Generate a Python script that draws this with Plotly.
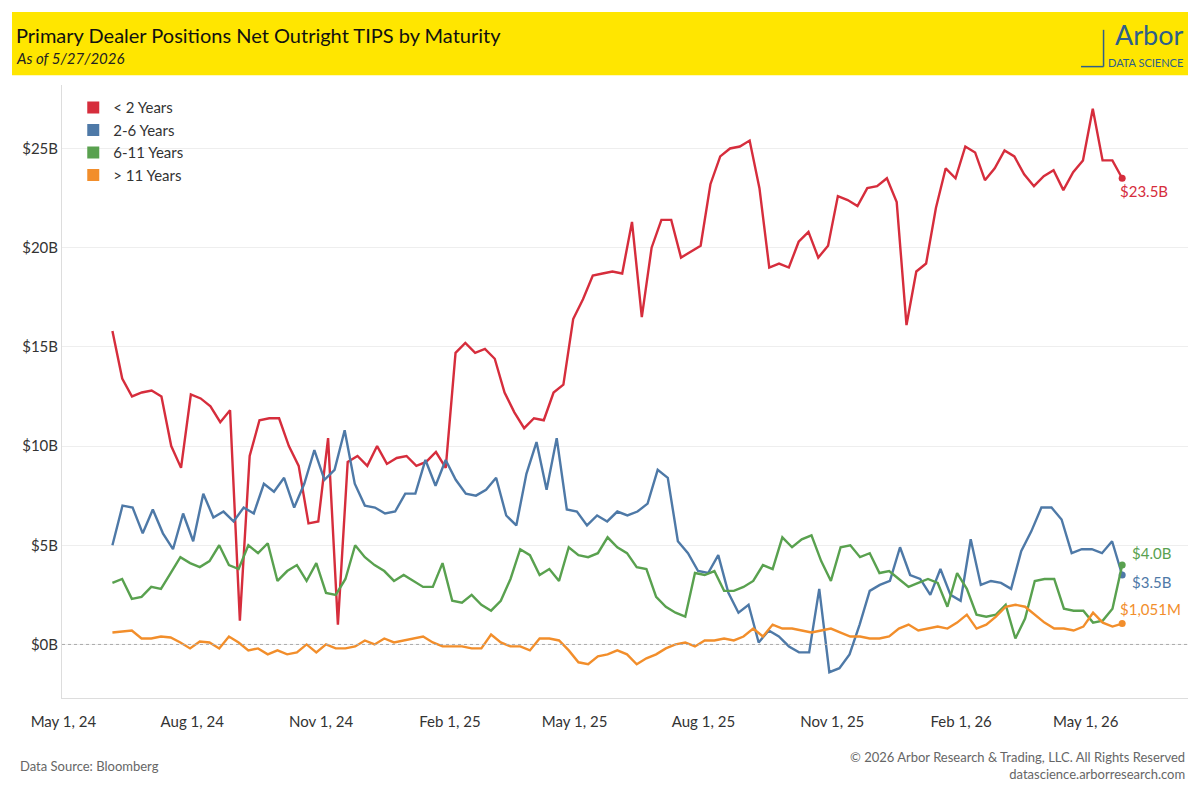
import plotly.graph_objects as go
import pandas as pd

lt2 = [15.8,13.4,12.5,12.7,12.8,12.5,10.0,8.9,12.6,12.4,12.0,11.2,11.8,1.2,9.5,11.3,11.4,11.4,10.0,9.0,6.1,6.2,
       10.4,1.0,9.2,9.5,9.0,10.0,9.1,9.4,9.5,9.0,9.2,9.7,8.9,
       14.7,15.2,14.7,14.9,14.4,12.7,11.7,10.9,11.4,11.3,12.7,13.1,16.4,17.4,18.6,18.7,18.8,18.7,21.3,16.5,
       20.0,21.4,21.4,19.5,19.8,20.1,23.2,24.6,25.0,25.1,25.4,23.0,19.0,19.2,19.0,20.3,20.8,19.5,20.1,22.6,
       22.4,22.1,23.0,23.1,23.5,22.3,16.1,18.8,19.2,22.0,24.0,23.5,25.1,24.8,23.4,24.0,24.9,24.6,23.7,23.1,
       23.6,23.9,22.9,23.8,24.4,27.0,24.4,24.4,23.5]
y2_6 = [5.0,7.0,6.9,5.6,6.8,5.6,4.8,6.6,5.2,7.6,6.4,6.7,6.2,6.9,6.6,8.1,7.7,8.4,6.9,8.1,9.8,8.3,8.8,10.8,
        8.1,7.0,6.9,6.6,6.7,7.6,7.6,9.3,8.0,9.3,8.3,7.6,7.5,7.8,8.4,6.5,6.0,8.6,10.2,7.8,10.4,6.8,6.7,6.0,
        6.5,6.2,6.7,6.5,6.7,7.1,8.8,8.4,5.2,4.6,3.7,3.6,4.5,2.6,1.6,2.0,0.1,0.7,0.4,-0.1,-0.4,-0.4,2.8,-1.4,
        -1.2,-0.5,1.0,2.7,3.0,3.2,4.9,3.5,3.3,2.5,3.8,2.5,2.2,5.3,3.0,3.2,3.1,2.8,4.7,5.7,6.9,6.9,6.3,4.6,
        4.8,4.8,4.6,5.2,3.5]
y6_11 = [3.1,3.3,2.3,2.4,2.9,2.8,3.6,4.4,4.1,3.9,4.2,5.0,4.0,3.8,5.0,4.6,5.1,3.2,3.7,4.0,3.2,4.1,2.6,2.5,
         3.3,5.0,4.4,4.0,3.7,3.2,3.5,3.2,2.9,2.9,4.1,2.2,2.1,2.5,2.0,1.7,2.2,3.3,4.8,4.5,3.5,3.8,3.2,4.9,
         4.5,4.4,4.6,5.4,4.9,4.6,3.9,3.8,2.4,1.9,1.6,1.4,3.6,3.5,3.7,2.7,2.7,2.9,3.2,4.0,3.8,5.4,4.9,5.3,
         5.5,4.2,3.2,4.9,5.0,4.4,4.6,3.6,3.7,3.3,2.9,3.1,3.3,3.1,1.9,3.6,2.8,1.5,1.4,1.5,2.0,0.3,1.3,3.2,
         3.3,3.3,1.8,1.7,1.7,1.1,1.2,1.8,4.0]
gt11 = [0.6,0.65,0.7,0.3,0.3,0.4,0.35,0.1,-0.2,0.15,0.1,-0.2,0.4,0.1,-0.3,-0.2,-0.5,-0.3,-0.5,-0.4,0.0,-0.4,
        0.0,-0.2,-0.2,-0.1,0.2,0.0,0.3,0.1,0.2,0.3,0.4,0.1,-0.1,-0.1,-0.1,-0.2,-0.2,0.5,0.1,-0.1,-0.1,-0.3,
        0.3,0.3,0.2,-0.3,-0.9,-1.0,-0.6,-0.5,-0.3,-0.5,-1.0,-0.7,-0.5,-0.2,0.0,0.1,-0.1,0.2,0.2,0.3,0.2,
        0.4,0.8,0.4,1.0,0.8,0.8,0.7,0.6,0.7,0.8,0.6,0.4,0.4,0.3,0.3,0.4,0.8,1.0,0.7,0.8,0.9,0.8,1.1,1.5,
        0.8,1.0,1.4,1.9,2.0,1.9,1.5,1.1,0.8,0.8,0.7,0.9,1.6,1.1,0.9,1.051]

names = ["< 2 Years", "2-6 Years", "6-11 Years", "> 11 Years"]
colors = ["#D62D3C", "#4E79A7", "#59A14F", "#F28E2B"]
series = [lt2, y2_6, y6_11, gt11]
end_labels = ["$23.5B", "$3.5B", "$4.0B", "$1,051M"]
start = pd.Timestamp("2024-06-05")
end = pd.Timestamp("2026-05-27")

fig = go.Figure()
for n, c, s in zip(names, colors, series):
    k = len(s)
    x = [start + (end - start) * i / (k - 1) for i in range(k)]
    fig.add_trace(go.Scatter(x=x, y=s, name=n, mode="lines", line=dict(color=c, width=2.4),
                             showlegend=False))
    fig.add_trace(go.Scatter(x=[x[-1]], y=[s[-1]], mode="markers", marker=dict(color=c, size=7),
                             showlegend=False))
    fig.add_trace(go.Scatter(x=[None], y=[None], mode="markers", name=n,
                             marker=dict(color=c, size=12, symbol="square")))

offs = [(-4, -13), (8, -7), (8, 12), (-4, 15)]
for lab, c, s, (dx, dy) in zip(end_labels, colors, series, offs):
    fig.add_annotation(x=end, y=s[-1], text=lab, showarrow=False, xanchor="left", xshift=dx,
                       yshift=dy, font=dict(color=c, size=15, family="Lato"))

fig.add_shape(type="rect", xref="paper", yref="paper", x0=-0.0444, x1=1.0, y0=1.016, y1=1.119,
              fillcolor="#FFE600", line_width=0, layer="below")
fig.add_annotation(xref="paper", yref="paper", x=-0.043, y=1.105, xanchor="left", yanchor="top",
                   text="Primary Dealer Positions Net Outright TIPS by Maturity", showarrow=False,
                   font=dict(size=20, color="#111", family="Lato"))
fig.add_annotation(xref="paper", yref="paper", x=-0.043, y=1.062, xanchor="left", yanchor="top",
                   text="<i>As of 5/27/2026</i>", showarrow=False, font=dict(size=15, color="#222", family="Lato"))
fig.add_annotation(xref="paper", yref="paper", x=0.997, y=1.112, xanchor="right", yanchor="top",
                   text="Arbor", showarrow=False, font=dict(size=27, color="#2E5F8A", family="Lato"))
fig.add_annotation(xref="paper", yref="paper", x=0.997, y=1.05, xanchor="right", yanchor="top",
                   text="DATA SCIENCE", showarrow=False, font=dict(size=11, color="#2E5F8A", family="Lato"))
fig.add_shape(type="line", xref="paper", yref="paper", x0=0.905, x1=0.925, y0=1.03, y1=1.03,
              line=dict(color="#2E5F8A", width=1.5))
fig.add_shape(type="line", xref="paper", yref="paper", x0=0.925, x1=0.925, y0=1.03, y1=1.09,
              line=dict(color="#2E5F8A", width=1.5))
fig.add_annotation(xref="paper", yref="paper", x=-0.039, y=-0.095, xanchor="left", yanchor="top",
                   text="Data Source: Bloomberg", showarrow=False, font=dict(size=13, color="#666", family="Lato"))
fig.add_annotation(xref="paper", yref="paper", x=0.999, y=-0.08, xanchor="right", yanchor="top", align="right",
                   text="© 2026 Arbor Research & Trading, LLC. All Rights Reserved<br>datascience.arborresearch.com",
                   showarrow=False, font=dict(size=13, color="#666", family="Lato"))

fig.update_layout(
    width=1184, height=784, plot_bgcolor="white", paper_bgcolor="white",
    margin=dict(l=54, r=4, t=77, b=94),
    font=dict(family="Lato", color="#333"),
    legend=dict(x=0.01, y=0.99, xanchor="left", yanchor="top", font=dict(size=15), bgcolor="rgba(0,0,0,0)",
                itemwidth=30, tracegroupgap=0),
    xaxis=dict(range=["2024-04-30", "2026-07-13"], tickvals=pd.date_range("2024-05-01", "2026-05-01", freq="3MS"),
               tickformat="%b %-d, %y", showgrid=False, ticks="", showline=True, linecolor="#ddd",
               tickfont=dict(size=15), ticklabelstandoff=10),
    yaxis=dict(range=[-2.7, 28.2], tickvals=[0, 5, 10, 15, 20, 25],
               ticktext=["$0B", "$5B", "$10B", "$15B", "$20B", "$25B"], gridcolor="#eeeeee",
               zeroline=False, showline=True, linecolor="#ddd", tickfont=dict(size=15)),
)
fig.add_hline(y=0, line=dict(color="#aaa", width=1, dash="dot"))
fig.write_html("out.html")
